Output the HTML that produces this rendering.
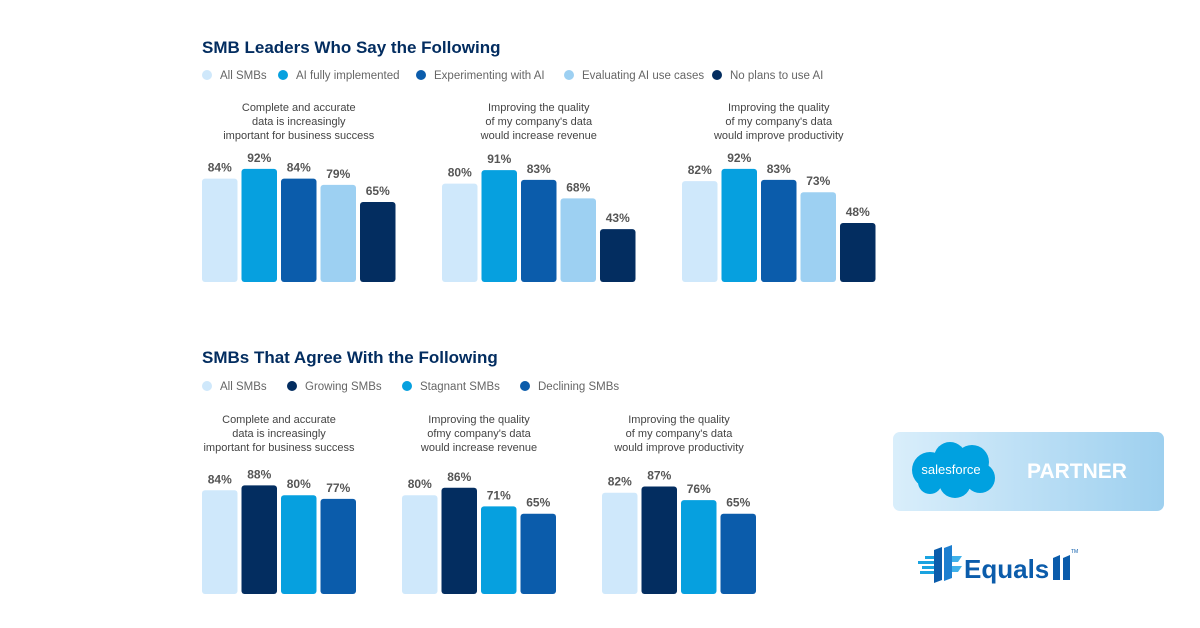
<!DOCTYPE html>
<html><head><meta charset="utf-8"><style>
html,body{margin:0;padding:0;background:#fff;}
svg{display:block;font-family:"Liberation Sans",sans-serif;}
</style></head><body>
<svg id="chart" width="1200" height="628" viewBox="0 0 1200 628">
<defs>
<linearGradient id="badgeGrad" x1="0" x2="1" y1="0" y2="0"><stop offset="0" stop-color="#d9eefb"/><stop offset="1" stop-color="#9ed0ef"/></linearGradient>
</defs>
<text x="202" y="53" font-size="17" font-weight="bold" fill="#032d60">SMB Leaders Who Say the Following</text>
<text x="202" y="363" font-size="17" font-weight="bold" fill="#032d60">SMBs That Agree With the Following</text>
<g id="top"></g><g id="bottom"></g>
<g>
<rect x="893" y="432" width="271" height="79" rx="7" fill="url(#badgeGrad)"/>
<g fill="#00a1e0">
<circle cx="930" cy="470" r="18"/><circle cx="950" cy="458" r="16"/><circle cx="972" cy="462" r="17"/><circle cx="980" cy="478" r="15"/><circle cx="955" cy="482" r="16"/><circle cx="930" cy="482" r="12"/>
</g>
<text x="951" y="474" font-size="13" fill="#fff" text-anchor="middle">salesforce</text>
<text x="1027" y="478" font-size="21" font-weight="bold" fill="#fff">PARTNER</text>
</g>
<g>
<g fill="#1aa3e0"><rect x="918" y="561" width="16" height="3"/><rect x="922" y="566" width="12" height="3"/><rect x="920" y="571" width="14" height="3"/><rect x="925" y="556" width="9" height="3"/></g>
<polygon points="934,550 942,547 942,580 934,583" fill="#0b5cab"/>
<polygon points="944,548 952,545 952,578 944,581" fill="#1d7fd0"/>
<polygon points="952,556 962,556 958,562 952,562" fill="#3fb1ea"/>
<polygon points="952,566 962,566 958,572 952,572" fill="#3fb1ea"/>
<text x="964" y="578" font-size="26" font-weight="bold" fill="#0b5cab">Equals</text>
<polygon points="1053,558 1060,555 1060,580 1053,580" fill="#0b5cab"/>
<polygon points="1063,558 1070,555 1070,580 1063,580" fill="#0b5cab"/>
<text x="1071" y="553" font-size="5" fill="#0b5cab">TM</text>
</g>
</svg>
<script>
// ---- top chart data ----
const topSeries = ["All SMBs","AI fully implemented","Experimenting with AI","Evaluating AI use cases","No plans to use AI"];
const topGroups = [["Complete and accurate","data is increasingly","important for business success"],["Improving the quality","of my company's data","would increase revenue"],["Improving the quality","of my company's data","would improve productivity"]];
const topAll = [84,80,82];
const topFull = [92,91,92];
const topExp = [84,83,83];
const topEval = [79,68,73];
const topNone = [65,43,48];
// ---- bottom chart data ----
const botSeries = ["All SMBs","Growing SMBs","Stagnant SMBs","Declining SMBs"];
const botGroups = [["Complete and accurate","data is increasingly","important for business success"],["Improving the quality","ofmy company's data","would increase revenue"],["Improving the quality","of my company's data","would improve productivity"]];
const botAll = [84,80,82];
const botGrowing = [88,86,87];
const botStagnant = [80,71,76];
const botDeclining = [77,65,65];

const NS="http://www.w3.org/2000/svg";
function mk(tag,attrs,parent){const e=document.createElementNS(NS,tag);for(const k in attrs)e.setAttribute(k,attrs[k]);parent.appendChild(e);return e;}

function drawChart(root,series,colors,values,groups,cfg){
  const g=document.getElementById(root);
  const step=39.5,bw=35.5;
  series.forEach((s,i)=>{
    const x=cfg.legendX[i];
    const c=mk('circle',{cx:x,cy:cfg.legendY,r:5,fill:colors[i]},g);
    
    
    const t=mk('text',{x:x+13,y:cfg.legendY+4,'font-size':11.5,fill:'#666'},g);
    t.textContent=s;
    
    
  });
  const yScale=v=>cfg.base-v*cfg.k;
  groups.forEach((lines,gi)=>{
    const x0=cfg.groupX[gi];
    const cx=x0+((series.length-1)*step+bw)/2;
    lines.forEach((ln,li)=>{
      const t=mk('text',{x:cx,y:cfg.subY+li*14,'font-size':11,fill:'#444','text-anchor':'middle'},g);
      t.textContent=ln;
      
      
    });
    values.forEach((arr,si)=>{
      const v=arr[gi];const x=x0+si*step;const y=yScale(v);
      const r=mk('rect',{x:x,y:y,width:bw,height:cfg.base-y,rx:3,fill:colors[si]},g);
      
      
      const t=mk('text',{x:x+bw/2,y:y-7,'font-size':12,'font-weight':'bold',fill:'#555','text-anchor':'middle'},g);
      t.textContent=v+'%';
      
      
    });
  });
}
drawChart('top',topSeries,['#cfe8fb','#06a0df','#0b5cab','#9dd0f2','#032d60'],[topAll,topFull,topExp,topEval,topNone],topGroups,
  {legendX:[207,283,421,569,717],legendY:75,base:282,k:1.23,groupX:[202,442,682],subY:111});
drawChart('bottom',botSeries,['#cfe8fb','#032d60','#06a0df','#0b5cab'],[botAll,botGrowing,botStagnant,botDeclining],botGroups,
  {legendX:[207,292,407,525],legendY:386,base:594,k:1.235,groupX:[202,402,602],subY:423});
</script>
</body></html>
